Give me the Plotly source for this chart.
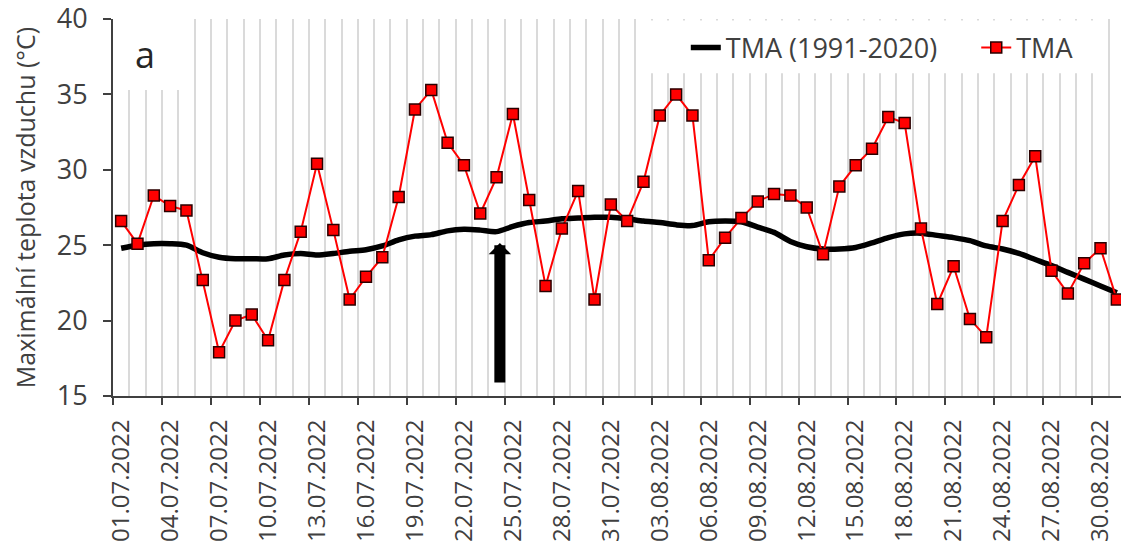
import plotly.graph_objects as go
import pandas as pd

# ---- data ----
dates = pd.date_range("2022-07-01", "2022-08-31", freq="D")
day_labels = [d.strftime("%d.%m.%Y") for d in dates]

tma_normal = [24.8, 25.0, 25.1, 25.1, 25.0, 24.5, 24.2, 24.1, 24.1, 24.1,
              24.35, 24.45, 24.35, 24.45, 24.6, 24.7, 24.95, 25.35, 25.6, 25.7,
              25.95, 26.05, 26.0, 25.9, 26.25, 26.5, 26.6, 26.75, 26.8, 26.85,
              26.85, 26.75, 26.6, 26.5, 26.35, 26.3, 26.55, 26.6, 26.55, 26.2,
              25.85, 25.25, 24.9, 24.75, 24.75, 24.85, 25.15, 25.5, 25.75, 25.8,
              25.65, 25.5, 25.3, 24.95, 24.75, 24.45, 24.05, 23.65, 23.2, 22.75,
              22.3, 21.85]

tma_2022 = [26.6, 25.1, 28.3, 27.6, 27.3, 22.7, 17.9, 20.0, 20.4, 18.7,
            22.7, 25.9, 30.4, 26.0, 21.4, 22.9, 24.2, 28.2, 34.0, 35.3,
            31.8, 30.3, 27.1, 29.5, 33.7, 28.0, 22.3, 26.1, 28.6, 21.4,
            27.7, 26.6, 29.2, 33.6, 35.0, 33.6, 24.0, 25.5, 26.8, 27.9,
            28.4, 28.3, 27.5, 24.4, 28.9, 30.3, 31.4, 33.5, 33.1, 26.1,
            21.1, 23.6, 20.1, 18.9, 26.6, 29.0, 30.9, 23.3, 21.8, 23.8,
            24.8, 21.4]

idx = list(range(len(dates)))
label_idx = idx[::3]
label_text = day_labels[::3]

arrow_day = 23.2
arrow_tip, arrow_base = 25.15, 15.8

y_ticks = [15, 20, 25, 30, 35, 40]

TXT = "#404040"
AX = "#404040"
GRID = "#dadada"
FONT = "Open Sans"

fig = go.Figure()

# hidden helper trace to carry the boundary tick/grid axis
fig.add_trace(go.Scatter(x=idx, y=[None] * len(idx), xaxis="x2", yaxis="y",
                         mode="lines", showlegend=False, hoverinfo="skip"))

fig.add_trace(go.Scatter(x=idx, y=tma_normal, mode="lines",
                         name="TMA (1991-2020)", legend="legend",
                         line=dict(color="black", width=5.5, shape="spline", smoothing=0.8)))

fig.add_trace(go.Scatter(x=idx, y=tma_2022, mode="lines+markers",
                         name="TMA", legend="legend2",
                         line=dict(color="#ff0000", width=2),
                         marker=dict(symbol="square", size=11, color="#ff0000",
                                     line=dict(color="#2a0000", width=1.5))))

x_range = [-0.5, len(idx) - 0.5]
leg_font = dict(size=27, color=TXT, family=FONT)

fig.update_layout(
    width=1129, height=553,
    # the page body adds an 8 px offset; margins compensate for it
    margin=dict(l=105, r=12, t=11, b=165, autoexpand=False),
    plot_bgcolor="white", paper_bgcolor="white",
    font=dict(family=FONT, color=TXT),
    showlegend=True,
    legend=dict(orientation="h", x=0.566, y=0.923, xanchor="left", yanchor="middle",
                font=leg_font, bgcolor="rgba(0,0,0,0)"),
    legend2=dict(orientation="h", x=0.853, y=0.923, xanchor="left", yanchor="middle",
                 font=leg_font, bgcolor="rgba(0,0,0,0)"),
    xaxis=dict(range=x_range, tickmode="array", tickvals=label_idx, ticktext=label_text,
               tickangle=-90, ticks="", showgrid=False, zeroline=False,
               showline=True, linecolor=AX, linewidth=2, automargin=False,
               ticklabeloverflow="allow",
               tickfont=dict(size=24, color=TXT, family=FONT),
               ticklabelstandoff=12),
    xaxis2=dict(range=x_range, overlaying="x", anchor="y", side="bottom",
                tickmode="linear", tick0=-0.5, dtick=3, automargin=False,
                ticks="outside", ticklen=8, tickwidth=2, tickcolor=AX,
                showticklabels=False, showline=False, zeroline=False,
                showgrid=True, gridcolor=GRID, gridwidth=2,
                minor=dict(tick0=-0.5, dtick=1, showgrid=True, gridcolor=GRID,
                           gridwidth=2, ticks="")),
    yaxis=dict(range=[15, 40], tickmode="array", tickvals=y_ticks,
               ticks="outside", ticklen=8, tickwidth=2, tickcolor=AX,
               showline=True, linecolor=AX, linewidth=2, automargin=False,
               showgrid=False, zeroline=False, ticklabeloverflow="allow",
               tickfont=dict(size=27, color=TXT, family=FONT),
               ticklabelstandoff=10,
               title=dict(text="Maximální teplota vzduchu (°C)",
                          font=dict(size=25, color=TXT, family=FONT), standoff=14)),
)

# white blank areas behind panel label and legend (hide the gridlines there)
fig.add_shape(type="rect", xref="x", yref="y", x0=-0.5, x1=4.0, y0=35.3, y1=40,
              fillcolor="white", line=dict(width=0), layer="between")
fig.add_shape(type="rect", xref="x", yref="y", x0=32.0, x1=60.0, y0=36.4, y1=39.9,
              fillcolor="white", line=dict(width=0), layer="between")

fig.add_annotation(text="a", xref="x domain", yref="y domain", x=0.032, y=0.905,
                   showarrow=False, xanchor="center", yanchor="middle",
                   font=dict(size=36, color="#262626", family=FONT))

fig.add_annotation(text="", x=arrow_day, y=arrow_tip, ax=arrow_day, ay=arrow_base,
                   xref="x", yref="y", axref="x", ayref="y",
                   showarrow=True, arrowhead=1, arrowwidth=11, arrowsize=0.34,
                   arrowcolor="black")

fig.write_html("out.html")
